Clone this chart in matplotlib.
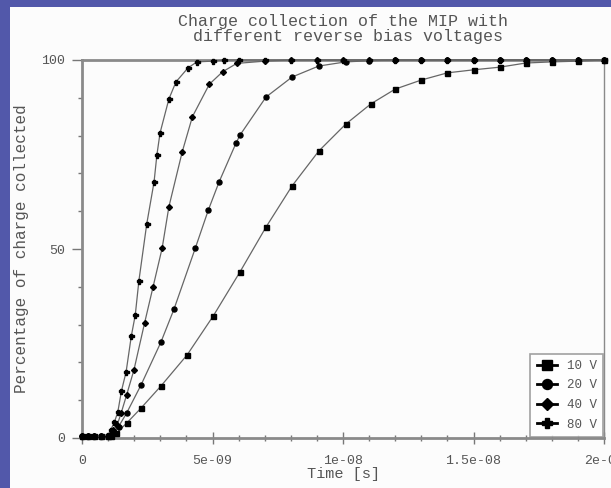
import numpy as np
import matplotlib
matplotlib.use("Agg")
import matplotlib.pyplot as plt
from matplotlib.patches import Rectangle
from matplotlib.ticker import MultipleLocator, FuncFormatter

# donnees (temps en ns, pourcentage)
t_80 = [0, 0.23, 0.46, 0.73, 1.0, 1.1, 1.24, 1.37, 1.51, 1.69, 1.89, 2.04, 2.18, 2.48,
        2.76, 2.87, 2.99, 3.33, 3.6, 4.06, 4.4, 5.0, 5.44, 6, 7, 8, 9, 10, 11, 12, 13,
        14, 15, 16, 17, 18, 19, 20]
v_80 = [0.5, 0.5, 0.5, 0.5, 0.8, 2.1, 4.2, 6.8, 12.4, 17.5, 27, 32.5, 41.6, 56.6,
        67.7, 74.9, 80.7, 89.7, 94.2, 97.9, 99.5, 99.7, 100, 100, 100, 100, 100, 100,
        100, 100, 100, 100, 100, 100, 100, 100, 100, 100]

t_40 = [0, 0.23, 0.46, 0.73, 1.0, 1.1, 1.2, 1.35, 1.5, 1.71, 1.99, 2.4, 2.72, 3.07,
        3.33, 3.84, 4.23, 4.88, 5.39, 5.93, 7, 8, 9, 10, 11, 12, 13, 14, 15, 16, 17,
        18, 19, 20]
v_40 = [0.5, 0.5, 0.5, 0.5, 0.6, 1.0, 2.0, 3.5, 6.6, 11.4, 18, 30.5, 39.9, 50.2,
        61.2, 75.7, 85, 93.6, 96.9, 99.1, 99.7, 100, 100, 100, 100, 100, 100, 100,
        100, 100, 100, 100, 100, 100]

t_20 = [0, 0.23, 0.46, 0.73, 1.0, 1.1, 1.2, 1.4, 1.71, 2.26, 3.02, 3.52, 4.34, 4.84,
        5.25, 5.9, 6.06, 7.05, 8.05, 9.07, 10.1, 11, 12, 13, 14, 15, 16, 17, 18, 19, 20]
v_20 = [0.5, 0.5, 0.5, 0.5, 0.5, 0.8, 1.5, 3.0, 6.6, 14, 25.3, 34, 50.2, 60.3,
        67.7, 78, 80.2, 90.2, 95.5, 98.4, 99.5, 99.8, 100, 100, 100, 100, 100, 100,
        100, 100, 100]

t_10 = [0, 0.23, 0.46, 0.73, 1.0, 1.1, 1.3, 1.72, 2.26, 3.03, 4.03, 5.03, 6.05, 7.05,
        8.05, 9.07, 10.1, 11.07, 12, 13, 14, 15, 16, 17, 18, 19, 20]
v_10 = [0.5, 0.5, 0.5, 0.5, 0.5, 0.5, 1.2, 4.0, 7.9, 13.8, 22, 32.3, 43.9, 55.8,
        66.7, 75.9, 83, 88.4, 92.3, 94.7, 96.6, 97.4, 98.1, 99.2, 99.5, 99.7, 100]

series = [("10 V", t_10, v_10, "s"),
          ("20 V", t_20, v_20, "o"),
          ("40 V", t_40, v_40, "D"),
          ("80 V", t_80, v_80, "P")]

titre = "Charge collection of the MIP with\n different reverse bias voltages"

police = "Liberation Mono"
gris = "#555555"

fig = plt.figure(figsize=(6.11, 4.88), dpi=100)
fig.patch.set_facecolor("#5258aa")
# panneau blanc (fond diapo bleu en haut et a gauche)
fig.patches.append(Rectangle((10 / 611, 0), 1, 481 / 488, transform=fig.transFigure,
                             facecolor="#fcfcfc", edgecolor="none", zorder=-10))

ax = fig.add_axes([82 / 611, 50 / 488, 522 / 611, 378 / 488])
ax.set_facecolor("#fcfcfc")

for nom, t, v, m in series:
    x = np.array(t) * 1e-9
    y = np.array(v)
    ms = 3.0 if m == "D" else 3.6
    ax.plot(x, y, color="#666666", lw=0.9, marker=m, ms=ms, mfc="black", mec="black",
            label=nom, clip_on=False, zorder=3)

ax.set_xlim(0, 2e-8)
ax.set_ylim(0, 100)

ax.xaxis.set_major_locator(MultipleLocator(5e-9))
ax.xaxis.set_minor_locator(MultipleLocator(1e-9))
ax.yaxis.set_major_locator(MultipleLocator(50))
ax.yaxis.set_minor_locator(MultipleLocator(10))
ax.xaxis.set_major_formatter(FuncFormatter(lambda v, p: "%g" % v))

for s in ["left", "bottom", "top"]:
    ax.spines[s].set_color("#8a8a8a")
    ax.spines[s].set_linewidth(2)
ax.spines["right"].set_color("#8a8a8a")
ax.spines["right"].set_linewidth(1)

ax.tick_params(axis="x", which="both", direction="inout", colors="#777777",
               labelcolor=gris, width=1)
ax.tick_params(axis="x", which="major", length=8, pad=8)
ax.tick_params(axis="x", which="minor", length=5)
ax.tick_params(axis="y", which="both", direction="out", colors="#777777",
               labelcolor=gris, width=1)
ax.tick_params(axis="y", which="major", length=7, pad=5)
ax.tick_params(axis="y", which="minor", length=3)

for lab in ax.get_xticklabels() + ax.get_yticklabels():
    lab.set_fontfamily(police)
    lab.set_fontsize(9.5)

ax.set_title(titre, fontfamily=police, fontsize=12, color=gris, pad=14, linespacing=1.0)
ax.set_xlabel("Time [s]", fontfamily=police, fontsize=11, color=gris, labelpad=0)
ax.set_ylabel("Percentage of charge collected", fontfamily=police, fontsize=11.5,
              color=gris, labelpad=9)

leg = ax.legend(loc="lower right", prop={"family": police, "size": 9},
                frameon=True, fancybox=False, borderaxespad=0.1, handlelength=1.6,
                labelcolor=gris, markerscale=2.0, borderpad=0.5, labelspacing=0.6)
leg.get_frame().set_edgecolor("#8a8a8a")
leg.get_frame().set_linewidth(1.2)
for l in leg.get_lines():
    l.set_color("black")
    l.set_linewidth(2)

fig.savefig("out.png", dpi=100, facecolor=fig.get_facecolor())
